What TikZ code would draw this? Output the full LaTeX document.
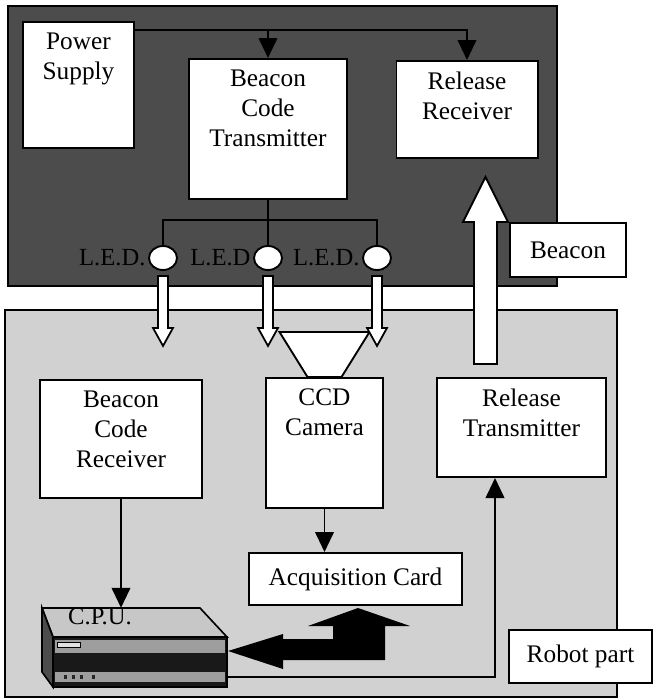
\documentclass[tikz,border=0pt]{standalone}
\usepackage{fontspec}
\setmainfont{Liberation Serif}
\usetikzlibrary{arrows.meta,positioning,calc,shapes.geometric}

\tikzset{
  blk/.style={draw, fill=white, line width=1.7pt, inner sep=0pt},
  wire/.style={line width=1.6pt, -{Triangle[length=0.6cm,width=0.56cm]}},
  toptext/.style={anchor=north, align=center, inner sep=0pt, yshift=-0.36cm},
  led/.style={draw, fill=white, ellipse, line width=1.6pt, minimum width=0.84cm, minimum height=0.72cm, inner sep=0pt},
  ledtext/.style={font=\fontsize{21}{23}\selectfont, inner sep=2pt},
  hollow/.style={draw, fill=white, line width=1.5pt},
}

\begin{document}
\begin{tikzpicture}[x=0.03cm, y=-0.03cm, font=\fontsize{21.6}{25.6}\selectfont]
\useasboundingbox (0,0) rectangle (657,700);
% panels
\filldraw[fill=black!70, line width=1.4pt] (8,6) rectangle (557,286);
\filldraw[fill=black!18, line width=1.4pt] (5,310) rectangle (617,697);

% upper part
\node[blk, minimum width=3.33cm, minimum height=3.78cm, label={[toptext]north:{Power\\Supply}}] (ps) at (78.5,85) {};
\node[blk, minimum width=4.74cm, minimum height=4.2cm, label={[toptext]north:{Beacon\\Code\\Transmitter}}] (bct) at (268,129) {};
\node[blk, minimum width=4.23cm, minimum height=2.91cm, label={[toptext]north:{Release\\Receiver}}] (rr) at (467,109.5) {};

\draw[wire] (ps.east |- 0,30) -| (rr.north);
\draw[wire] (bct.north |- 0,30) -- (bct.north);

\node[led, label={[ledtext]west:L.E.D.}] (led1) at (163,258) {};
\node[led, label={[ledtext]west:L.E.D}] (led2) at (268,258) {};
\node[led, label={[ledtext]west:L.E.D.}] (led3) at (377,258) {};
\draw[line width=1.6pt] (bct.south) -- (led2.north);
\draw[line width=1.6pt] (led1.north) -- (led1.north |- 0,220) -- (led3.north |- 0,220) -- (led3.north);

% lower part
\node[blk, minimum width=4.86cm, minimum height=3.54cm, label={[toptext]north:{Beacon\\Code\\Receiver}}] (bcr) at (121,439) {};
\node[blk, minimum width=3.51cm, minimum height=3.9cm, label={[toptext]north:{CCD\\Camera}}] (ccd) at (324.5,443) {};
\node[blk, minimum width=5.07cm, minimum height=2.97cm, label={[toptext]north:{Release\\Transmitter}}] (rt) at (521.5,427.5) {};
\node[blk, minimum width=6.39cm, minimum height=1.56cm] (acq) at (355.5,579) {Acquisition Card};

% camera lens
\draw[hollow, line width=1.6pt] ($(ccd.north)+(-17,0)$) -- ($(ccd.north)+(17,0)$) -- ($(ccd.north)+(45,-45)$) -- ($(ccd.north)+(-45,-45)$) -- cycle;

% light from the L.E.D.s
\foreach \i in {1,2,3}
  \draw[hollow] ($(led\i.south)+(-5,5)$) -- ++(10,0) -- ++(0,52) -- ++(5,0) -- ++(-10,18) -- ++(-10,-18) -- ++(5,0) -- cycle;

% beacon signal
\draw[hollow, line width=1.6pt] ($(rt.north)+(-47.5,-13)$) -- ++(23,0) -- ++(0,-142) -- ++(11,0) -- ++(-22.5,-45) -- ++(-22.5,45) -- ++(11,0) -- cycle;
\node[blk, minimum width=3.48cm, minimum height=1.62cm] (beacon) at (568,250) {Beacon};

% C.P.U.
\node[minimum width=5.55cm, minimum height=2.37cm, inner sep=0pt] (cpu) at (134.5,647.5) {};
\filldraw[fill=black!22, line width=1.4pt] (42,608) -- (200,608) -- (227,637) -- (53,637) -- cycle;
\filldraw[fill=black!70, line width=1.4pt] (42,608) -- (53,637) -- (53,687) -- (42,672) -- cycle;
\filldraw[fill=black!90, line width=1.4pt] (53,637) rectangle (227,687);
\fill[black!38] (55,640) rectangle (225,653);
\draw[fill=black!12, line width=0.6pt] (57,642) rectangle (80,647);
\fill[black!38] (55,672) rectangle (225,682);
\foreach \x in {64,72,80,92} \fill[black!85] (\x,675) rectangle ++(3,4);
\node[font=\fontsize{21}{23}\selectfont] (cpulabel) at (100,617) {C.P.U.};

\draw[wire] (bcr.south) -- (bcr.south |- cpu.north);
\draw[wire] (ccd.south) -- (ccd.south |- acq.north);
\draw[wire] ($(cpu.south east)+(0,-10)$) -| ($(rt.south)+(-26.5,0)$);

% data path between card and C.P.U.
\fill ($(acq.south)+(2.5,2)$) -- ++(52,18) -- ++(-25,0) -- ++(0,34) -- ++(-102,0) -- ++(0,9) -- ++(-55,-18) -- ++(55,-17) -- ++(0,5) -- ++(50,0) -- ++(0,-13) -- ++(-25,0) -- cycle;

\node[blk, minimum width=4.29cm, minimum height=1.59cm] (robot) at (580.5,656.5) {Robot part};
\end{tikzpicture}
\end{document}
